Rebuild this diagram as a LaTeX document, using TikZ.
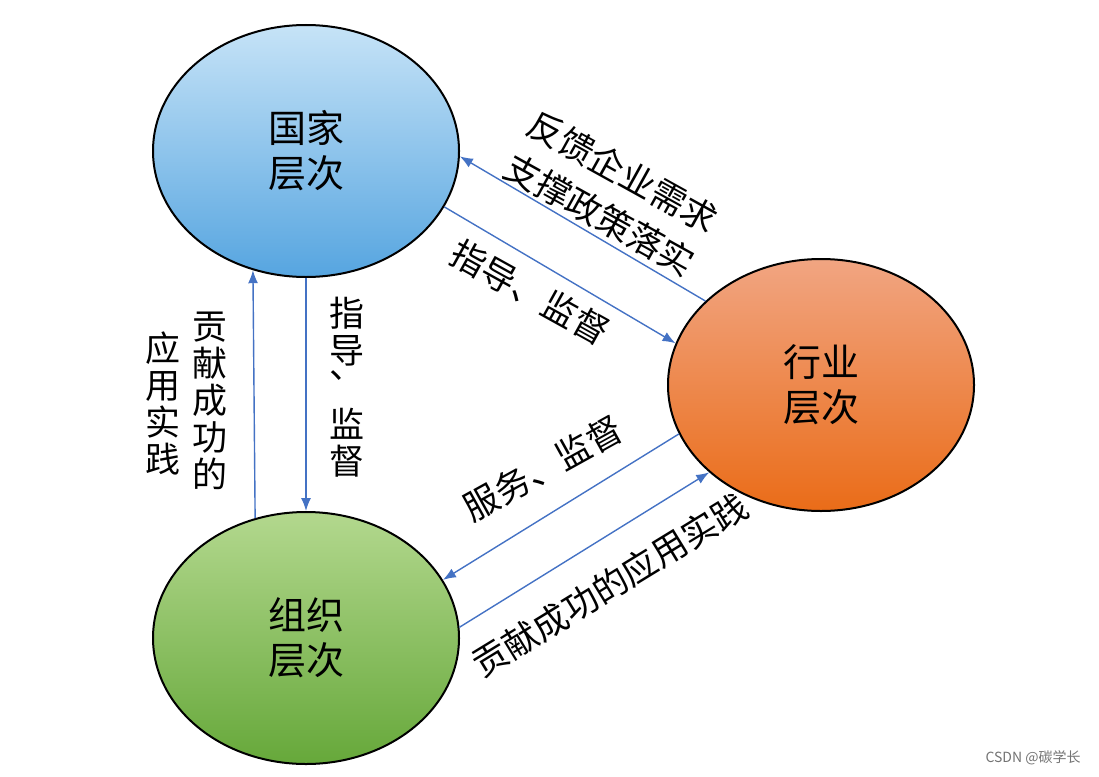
\documentclass[tikz,border=0pt]{standalone}
\usepackage{fontspec}
\newfontfamily\cjk{Noto Sans CJK SC}
\usetikzlibrary{shapes.geometric,arrows.meta}
\definecolor{arr}{HTML}{4472C4}
\definecolor{bluetop}{HTML}{C6E3F7}
\definecolor{bluebot}{HTML}{56A5E0}
\definecolor{orgtop}{HTML}{F1A582}
\definecolor{orgbot}{HTML}{EA6C18}
\definecolor{grntop}{HTML}{B3D88E}
\definecolor{grnbot}{HTML}{66A83A}
\begin{document}
\begin{tikzpicture}[x=1pt,y=-1pt,
  lvl/.style={ellipse,draw=black,line width=2pt,minimum width=306pt,minimum height=252pt,
    inner sep=0pt,align=center,font=\cjk\fontsize{38}{45}\selectfont},
  conn/.style={draw=arr,line width=1.4pt,-{Latex[length=13pt,width=10pt]}},
  lab/.style={font=\cjk\fontsize{35}{37}\selectfont,inner sep=0pt,align=center}]
\useasboundingbox (0,0) rectangle (1099,776);
\node[lvl,top color=bluetop,bottom color=bluebot] (gj) at (306,151) {国家\\层次};
\node[lvl,top color=orgtop,bottom color=orgbot] (hy) at (821,385) {行业\\层次};
\node[lvl,top color=grntop,bottom color=grnbot] (zz) at (306,638) {组织\\层次};
% vertical arrows
\draw[conn] (zz.113.8) -- (gj.246.2);
\draw[conn] (gj.south) -- (zz.north);
% top <-> right
\draw[conn] (gj.-22) -- (hy.164.2);
\draw[conn] (hy.144.8) -- (gj.-2.6);
% right <-> bottom
\draw[conn] (hy.199.9) -- (zz.23.4);
\draw[conn] (zz.4) -- (hy.218.7);
% labels
\node[lab] (v1) at (347,387) {指\\导\\\raisebox{22pt}[0pt][0pt]{、}\\监\\督};
\node[lab] (v2) at (210,401) {贡\\献\\成\\功\\的};
\node[lab] (v3) at (163,403) {应\\用\\实\\践};
\node[lab,rotate=-29] (d1) at (623,172) {反馈企业需求};
\node[lab,rotate=-29] (d2) at (600,215) {支撑政策落实};
\node[lab,rotate=-29] (d3) at (530,292) {指导、监督};
\node[lab,rotate=29] (d4) at (543,468) {服务、监督};
\node[lab,rotate=31.5] (d5) at (610,585) {贡献成功的应用实践};
\node[font=\cjk\fontsize{14}{16}\selectfont,text=black!55,inner sep=0pt] (wm) at (1033,758) {CSDN @碳学长};
\end{tikzpicture}
\end{document}
